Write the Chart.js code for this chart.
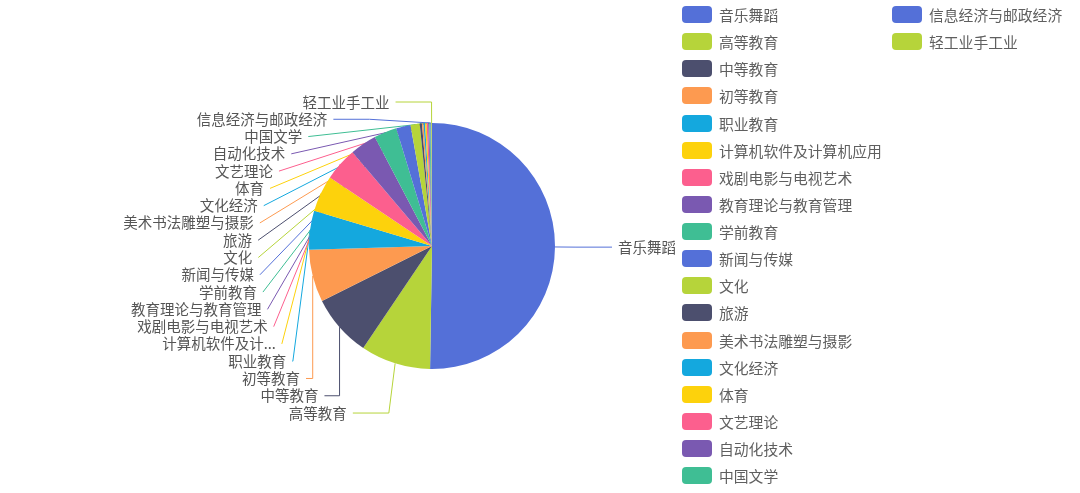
<!DOCTYPE html>
<html>
<head>
<meta charset="utf-8">
<title>专业分布</title>
<script src="https://cdn.jsdelivr.net/npm/chart.js@4.4.0/dist/chart.umd.min.js"></script>
<style>
  html, body { margin: 0; padding: 0; background: #fff; overflow: hidden; }
  #wrap { position: relative; width: 1080px; height: 493px; }
  #pie { position: absolute; left: 0; top: 0; }
  #legend { position: absolute; left: 0; top: 0; font: 14.8px "Noto Sans CJK SC", sans-serif; color: #5f5f5f; }
  .li { position: absolute; height: 17px; display: flex; align-items: center; white-space: nowrap; }
  .sw { width: 30px; height: 17px; border-radius: 4px; margin-right: 7px; flex: none; }
</style>
</head>
<body>
<div id="wrap">
  <canvas id="pie" width="1080" height="493"></canvas>
  <div id="legend"></div>
</div>
<script>
// 专业类别
const categories = [
  '音乐舞蹈', '高等教育', '中等教育', '初等教育', '职业教育',
  '计算机软件及计算机应用', '戏剧电影与电视艺术', '教育理论与教育管理', '学前教育', '新闻与传媒',
  '文化', '旅游', '美术书法雕塑与摄影', '文化经济', '体育',
  '文艺理论', '自动化技术', '中国文学', '信息经济与邮政经济', '轻工业手工业'
];
// 各类别数量
const values = [
  503, 92, 82, 69, 51,
  48, 44, 35, 30, 19,
  12, 3, 2, 2, 2,
  2, 1.5, 1.5, 1, 1
];
const palette = ['#5470d8', '#b6d43a', '#4c4f6e', '#fd9a50', '#14a8de', '#fdd20c', '#fc5f8e', '#7a59b1', '#3fbe94'];
const colors = categories.map((_, i) => palette[i % palette.length]);

// 标签引导线参数
const LEN1 = 21, LEN2 = 36, GAP = 6, LINE_H = 17.28;
const labelFont = '14.5px "Noto Sans CJK SC", sans-serif';

// 名称过长时截断
function shortName(name) {
  return name.length > 10 ? name.slice(0, 7) + '...' : name;
}

function projectToLine(a, b, p) {
  const dx = b[0] - a[0], dy = b[1] - a[1];
  const t = ((p[0] - a[0]) * dx + (p[1] - a[1]) * dy) / (dx * dx + dy * dy);
  const q = [a[0] + t * dx, a[1] + t * dy];
  return { q, d: Math.hypot(p[0] - q[0], p[1] - q[1]) };
}

function clampOnSegment(q, p1, p2) {
  const t = p2[0] !== p1[0] ? (q[0] - p1[0]) / (p2[0] - p1[0]) : (q[1] - p1[1]) / (p2[1] - p1[1]);
  if (isNaN(t)) return null;
  if (t < 0) return p1.slice();
  if (t > 1) return p2.slice();
  return q;
}

// 折线拐角不小于 minDeg
function limitTurnAngle(pts, minDeg) {
  const [p0, p1, p2] = pts;
  const ax = p0[0] - p1[0], ay = p0[1] - p1[1], bx = p2[0] - p1[0], by = p2[1] - p1[1];
  const la = Math.hypot(ax, ay), lb = Math.hypot(bx, by);
  if (la < 1e-3 || lb < 1e-3) return;
  const minA = minDeg * Math.PI / 180;
  if (Math.cos(minA) < (ax * bx + ay * by) / (la * lb)) {
    const { q, d } = projectToLine(p1, p2, p0);
    const k = d / Math.tan(Math.PI - minA);
    const r = clampOnSegment([q[0] + bx / lb * k, q[1] + by / lb * k], p1, p2);
    if (r) pts[1] = r;
  }
}

// 引导线不要穿进扇区
function limitSurfaceAngle(pts, normal, maxDeg) {
  const [p0, p1, p2] = pts;
  let ax = p1[0] - p0[0], ay = p1[1] - p0[1], bx = p2[0] - p1[0], by = p2[1] - p1[1];
  const la = Math.hypot(ax, ay), lb = Math.hypot(bx, by);
  if (la < 1e-3 || lb < 1e-3) return;
  ax /= la; ay /= la; bx /= lb; by /= lb;
  const maxA = maxDeg * Math.PI / 180;
  if (ax * normal[0] + ay * normal[1] < Math.cos(maxA)) {
    const { q, d } = projectToLine(p1, p2, p0);
    const angle2 = Math.acos(Math.max(-1, Math.min(1, bx * normal[0] + by * normal[1])));
    const newAngle = Math.PI / 2 + angle2 - maxA;
    let r;
    if (newAngle >= Math.PI / 2) {
      r = p2.slice();
    } else {
      const k = d / Math.tan(Math.PI / 2 - newAngle);
      r = clampOnSegment([q[0] + bx * k, q[1] + by * k], p1, p2);
    }
    if (r) pts[1] = r;
  }
}

function layoutLabels(chart) {
  const arcs = chart.getDatasetMeta(0).data;
  const cx = arcs[0].x, cy = arcs[0].y, r = arcs[0].outerRadius;
  const rA = r + LEN1;
  const items = arcs.map((arc, i) => {
    const mid = (arc.startAngle + arc.endAngle) / 2;
    const nx = Math.cos(mid), ny = Math.sin(mid);
    const dir = nx < 0 ? -1 : 1;
    return {
      i, nx, ny, dir,
      p0: [cx + r * nx, cy + r * ny],
      x: cx + rA * nx + dir * (LEN2 + GAP),
      y: cy + rA * ny
    };
  });

  [-1, 1].forEach(side => {
    const list = items.filter(it => it.dir === side).sort((a, b) => a.y - b.y);
    if (list.length < 2) return;
    let lastBottom = -Infinity, moved = false;
    list.forEach(it => {
      const top = it.y - LINE_H / 2;
      if (top < lastBottom) { it.y += lastBottom - top; moved = true; }
      lastBottom = it.y + LINE_H / 2;
    });
    if (!moved) return;
    // 上下两半各自排在椭圆上
    const semis = [{ list: [], maxY: 0, rB: rA }, { list: [], maxY: 0, rB: rA }];
    list.forEach(it => {
      const semi = semis[it.y > cy ? 1 : 0];
      const dy = Math.abs(it.y - cy);
      if (dy >= semi.maxY) {
        const dx = it.x - cx - LEN2 * side;
        semi.rB = Math.abs(dx) < rA ? Math.sqrt(dy * dy / (1 - dx * dx / (rA * rA))) : rA;
        semi.maxY = dy;
      }
      semi.list.push(it);
    });
    semis.forEach(semi => semi.list.forEach(it => {
      const dy = Math.abs(it.y - cy);
      const dx = Math.sqrt(Math.max(0, 1 - dy * dy / (semi.rB * semi.rB))) * rA;
      it.x = cx + (dx + LEN2) * side;
    }));
  });

  items.forEach(it => {
    const p2 = [it.x - it.dir * GAP, it.y];
    const p1 = [p2[0] - it.dir * LEN2, it.y];
    it.pts = [it.p0, p1, p2];
    limitTurnAngle(it.pts, 90);
    limitSurfaceAngle(it.pts, [it.nx, it.ny], 90);
  });
  return items;
}

const pieLabels = {
  id: 'pieLabels',
  beforeDatasetsDraw(chart) {
    const ctx = chart.ctx;
    chart.$labels = layoutLabels(chart);
    ctx.save();
    ctx.lineWidth = 1;
    chart.$labels.forEach(it => {
      ctx.strokeStyle = colors[it.i];
      ctx.beginPath();
      ctx.moveTo(it.pts[0][0], it.pts[0][1]);
      ctx.lineTo(it.pts[1][0], it.pts[1][1]);
      ctx.lineTo(it.pts[2][0], it.pts[2][1]);
      ctx.stroke();
    });
    ctx.restore();
  },
  afterDatasetsDraw(chart) {
    const ctx = chart.ctx;
    ctx.save();
    ctx.font = labelFont;
    ctx.fillStyle = '#555';
    ctx.textBaseline = 'middle';
    chart.$labels.forEach(it => {
      ctx.textAlign = it.dir < 0 ? 'right' : 'left';
      ctx.fillText(shortName(categories[it.i]), it.x, it.y);
    });
    ctx.restore();
  }
};

new Chart(document.getElementById('pie'), {
  type: 'pie',
  data: {
    labels: categories,
    datasets: [{
      data: values,
      backgroundColor: colors,
      borderWidth: 0
    }]
  },
  options: {
    responsive: false,
    animation: false,
    layout: { padding: { left: 309, right: 525, top: 123, bottom: 124 } },
    plugins: {
      legend: { display: false },
      tooltip: { enabled: false }
    }
  },
  plugins: [pieLabels]
});

// 右侧图例，每列 18 项
const legend = document.getElementById('legend');
categories.forEach((name, i) => {
  const col = Math.floor(i / 18), row = i % 18;
  const item = document.createElement('div');
  item.className = 'li';
  item.style.left = (682 + col * 210) + 'px';
  item.style.top = (6 + row * 27.13) + 'px';
  const sw = document.createElement('span');
  sw.className = 'sw';
  sw.style.background = colors[i];
  item.appendChild(sw);
  item.appendChild(document.createTextNode(name));
  legend.appendChild(item);
});
</script>
</body>
</html>
